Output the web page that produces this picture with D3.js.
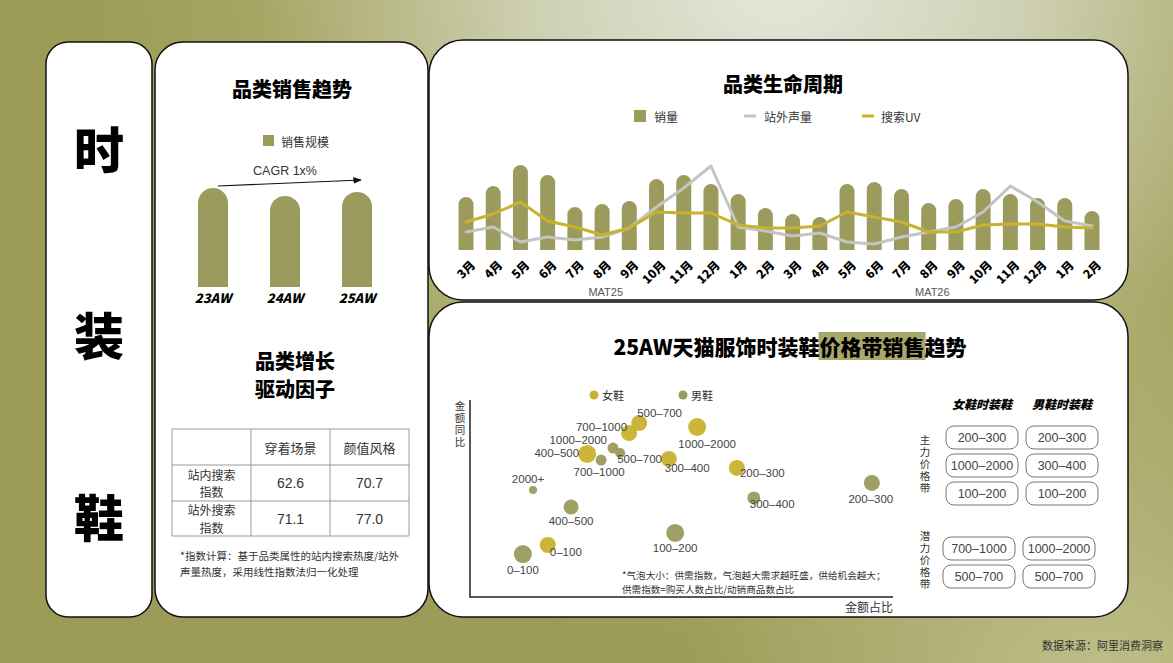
<!DOCTYPE html>
<html>
<head>
<meta charset="utf-8">
<script src="https://cdn.jsdelivr.net/npm/d3@7"></script>
<style>
  html, body { margin: 0; padding: 0; background: #9c9c58; }
  svg { display: block; }
  text { font-family: "Noto Sans CJK SC", "Noto Sans", sans-serif; }
  .num { font-family: "Liberation Sans", "Noto Sans CJK SC", sans-serif; }
  .heavy { font-weight: 900; }
  .vert { writing-mode: vertical-rl; text-orientation: upright; }
</style>
</head>
<body>
<div id="chart"></div>
<script>
// ---- data ----
var sizeCats = ['23AW', '24AW', '25AW'];
var sizeVals = [100, 92, 96];

var months = ['3月','4月','5月','6月','7月','8月','9月','10月','11月','12月','1月','2月'];
var periods = ['MAT25', 'MAT26'];
var salesVol   = [53,64,85,75,43,46,49,71,75,66,56,42, 36,33,66,68,61,47,51,61,56,52,52,39];
var offsiteBuz = [18,23,8,13,10,13,22,43,62,84,23,19, 14,17,8,6,13,18,23,38,64,48,29,24];
var searchUV   = [28,36,48,29,23,15,22,38,37,37,25,22, 22,24,38,33,28,18,18,25,26,26,23,22];

var driverCols = ['穿着场景', '颜值风格'];
var driverRows = [['站内搜索', '指数'], ['站外搜索', '指数']];
var driverVals = [[62.6, 70.7], [71.1, 77.0]];

var womenBands = ['0-100','200-300','300-400','400-500','500-700','700-1000','1000-2000'];
var womenShare = [18.4, 63.1, 47.0, 27.7, 40.0, 37.6, 53.7];
var womenYoY   = [26.4, 65.5, 70.1, 72.6, 88.3, 83.2, 86.3];
var womenIdx   = [79, 79, 79, 100, 79, 79, 100];

var menBands = ['0-100','100-200','200-300','300-400','400-500','500-700','700-1000','1000-2000','2000+'];
var menShare = [12.5, 48.5, 95.0, 67.1, 23.9, 35.5, 31.0, 33.8, 14.9];
var menYoY   = [21.8, 32.5, 57.9, 50.3, 45.7, 73.1, 69.5, 75.6, 54.3];
var menIdx   = [100, 100, 79, 52, 69, 31, 37, 37, 20];

var mainBands = [['200-300','200-300'], ['1000-2000','300-400'], ['100-200','100-200']];
var potBands  = [['700-1000','1000-2000'], ['500-700','500-700']];

// label placement [dx, dy, anchor] next to each bubble (layout only)
var womenLabelPos = [[2,7,'start'],[3,5,'start'],[-4,9,'start'],[-8,-1,'end'],[-2,-10,'start'],[-2,-6,'end'],[10,17,'middle']];
var menLabelPos = [[0,16,'middle'],[0,15,'middle'],[-1,16,'middle'],[-4,6,'start'],[0,14,'middle'],[-3,6,'start'],[-2,12,'middle'],[-6,-8,'end'],[-5,-11,'middle']];

var OLIVE = '#9b9b5e', GOLD = '#c9b22e', GRAY = '#c4c4c4';

var W = 1173, H = 663;
var svg = d3.select('#chart').append('svg').attr('width', W).attr('height', H);

// background
var defs = svg.append('defs');
var rg = defs.append('radialGradient').attr('id', 'bg')
  .attr('gradientUnits', 'userSpaceOnUse')
  .attr('cx', 780).attr('cy', -40).attr('r', 700);
rg.append('stop').attr('offset', 0).attr('stop-color', '#e6e8de');
rg.append('stop').attr('offset', 0.35).attr('stop-color', '#cfd1b4');
rg.append('stop').attr('offset', 0.75).attr('stop-color', '#a6a664');
rg.append('stop').attr('offset', 1).attr('stop-color', '#9c9c58');
svg.append('rect').attr('width', W).attr('height', H).attr('fill', 'url(#bg)');
var rg2 = defs.append('radialGradient').attr('id', 'bg2')
  .attr('gradientUnits', 'userSpaceOnUse')
  .attr('cx', 1100).attr('cy', 700).attr('r', 420);
rg2.append('stop').attr('offset', 0).attr('stop-color', '#c8c898').attr('stop-opacity', 0.8);
rg2.append('stop').attr('offset', 1).attr('stop-color', '#c8c898').attr('stop-opacity', 0);
svg.append('rect').attr('width', W).attr('height', H).attr('fill', 'url(#bg2)');

// panels
var panels = [
  {x: 46, y: 42, w: 106, h: 575, r: 22},
  {x: 155, y: 42, w: 273, h: 575, r: 28},
  {x: 429, y: 40, w: 699, h: 260, r: 34},
  {x: 429, y: 302, w: 699, h: 315, r: 34}
];
svg.selectAll('rect.panel').data(panels).enter().append('rect')
  .attr('class', 'panel')
  .attr('x', function(d){ return d.x; }).attr('y', function(d){ return d.y; })
  .attr('width', function(d){ return d.w; }).attr('height', function(d){ return d.h; })
  .attr('rx', function(d){ return d.r; })
  .attr('fill', '#fff').attr('stroke', '#111').attr('stroke-width', 1.5);

// left vertical title
svg.selectAll('text.side').data(['时', '装', '鞋']).enter().append('text')
  .attr('class', 'side heavy')
  .attr('x', 99).attr('y', function(d, i){ return [147, 333, 515][i]; })
  .attr('text-anchor', 'middle').attr('dominant-baseline', 'central')
  .attr('font-size', 50).attr('fill', '#000')
  .text(function(d){ return d; });

function title(x, y, t, size) {
  return svg.append('text').attr('class', 'heavy')
    .attr('x', x).attr('y', y).attr('text-anchor', 'middle').attr('dominant-baseline', 'central')
    .attr('font-size', size || 20).attr('fill', '#000').text(t);
}

// rounded-top bar path
function barPath(x, y, w, h) {
  var r = Math.min(w / 2, h);
  return 'M' + x + ',' + (y + h) + 'V' + (y + r) +
    'A' + r + ',' + r + ' 0 0 1 ' + (x + w) + ',' + (y + r) +
    'V' + (y + h) + 'Z';
}

// vertical text (top-to-bottom), centred on (x, yc)
function vText(str, x, yc, size, spacing) {
  return svg.append('text').attr('class', 'vert').attr('x', x).attr('y', yc)
    .attr('text-anchor', 'middle').attr('font-size', size)
    .attr('letter-spacing', spacing).attr('fill', '#333').text(str);
}

// ---- panel 2: 品类销售趋势 ----
title(292, 88, '品类销售趋势');
svg.append('rect').attr('x', 263).attr('y', 135).attr('width', 11).attr('height', 11).attr('fill', OLIVE);
svg.append('text').attr('x', 281).attr('y', 141).attr('dominant-baseline', 'central')
  .attr('font-size', 12).attr('fill', '#333').text('销售规模');

var xs = d3.scaleBand().domain(sizeCats).range([177, 393]).paddingInner(0.583).paddingOuter(0.2915);
var ys = d3.scaleLinear().domain([0, 100]).range([287, 188]);

svg.append('g').selectAll('path').data(sizeVals).enter().append('path')
  .attr('fill', OLIVE)
  .attr('d', function(d, i){ return barPath(xs(sizeCats[i]), ys(d), xs.bandwidth(), ys(0) - ys(d)); });

var axS = svg.append('g').attr('transform', 'translate(0,' + ys(0) + ')')
  .call(d3.axisBottom(xs).tickSize(0).tickPadding(7));
axS.select('.domain').remove();
axS.selectAll('text').attr('class', 'heavy').attr('font-size', 13).attr('fill', '#000')
  .attr('font-style', 'italic').attr('font-family', '"DejaVu Sans", sans-serif').attr('font-weight', 'bold');

defs.append('marker').attr('id', 'arr').attr('viewBox', '0 0 10 10').attr('refX', 9).attr('refY', 5)
  .attr('markerWidth', 7).attr('markerHeight', 7).attr('orient', 'auto')
  .append('path').attr('d', 'M0,1L10,5L0,9Z').attr('fill', '#111');
svg.append('line')
  .attr('x1', xs('23AW') + xs.bandwidth() / 2 + 5).attr('y1', ys(sizeVals[0]) - 2)
  .attr('x2', xs('25AW') + xs.bandwidth() / 2 + 4).attr('y2', ys(sizeVals[0]) - 8)
  .attr('stroke', '#111').attr('stroke-width', 1.2).attr('marker-end', 'url(#arr)');
svg.append('text').attr('class', 'num').attr('x', 285).attr('y', 171)
  .attr('text-anchor', 'middle').attr('dominant-baseline', 'central')
  .attr('font-size', 12.5).attr('fill', '#333').text('CAGR 1x%');

// ---- 品类增长驱动因子 ----
title(295, 360, '品类增长');
title(295, 388, '驱动因子');
var colX = [172, 251, 330, 409], rowY = [429, 465, 501, 536];
var tbl = svg.append('g');
rowY.forEach(function(y){
  tbl.append('line').attr('x1', colX[0]).attr('x2', colX[3]).attr('y1', y).attr('y2', y)
    .attr('stroke', '#999').attr('stroke-width', 1);
});
colX.forEach(function(x){
  tbl.append('line').attr('x1', x).attr('x2', x).attr('y1', rowY[0]).attr('y2', rowY[3])
    .attr('stroke', '#999').attr('stroke-width', 1);
});
driverCols.forEach(function(c, j){
  tbl.append('text').attr('x', (colX[j + 1] + colX[j + 2]) / 2).attr('y', (rowY[0] + rowY[1]) / 2)
    .attr('text-anchor', 'middle').attr('dominant-baseline', 'central')
    .attr('font-size', 13).attr('fill', '#333').text(c);
});
driverRows.forEach(function(r, i){
  var cy = (rowY[i + 1] + rowY[i + 2]) / 2;
  r.forEach(function(l, k){
    tbl.append('text').attr('x', (colX[0] + colX[1]) / 2).attr('y', cy + (k - 0.5) * 17.6)
      .attr('text-anchor', 'middle').attr('dominant-baseline', 'central')
      .attr('font-size', 12).attr('fill', '#333').text(l);
  });
  driverVals[i].forEach(function(v, j){
    tbl.append('text').attr('class', 'num').attr('x', (colX[j + 1] + colX[j + 2]) / 2).attr('y', cy)
      .attr('text-anchor', 'middle').attr('dominant-baseline', 'central')
      .attr('font-size', 14).attr('fill', '#333').text(v.toFixed(1));
  });
});
['*指数计算：基于品类属性的站内搜索热度/站外', '声量热度，采用线性指数法归一化处理'].forEach(function(t, i){
  svg.append('text').attr('x', 180).attr('y', 555 + i * 16).attr('dominant-baseline', 'central')
    .attr('font-size', 10.5).attr('fill', '#333').text(t);
});

// ---- panel 3: 品类生命周期 ----
title(783, 83, '品类生命周期');
var lg = svg.append('g').attr('font-size', 12).attr('fill', '#333');
lg.append('rect').attr('x', 634).attr('y', 110).attr('width', 12).attr('height', 12).attr('fill', OLIVE);
lg.append('text').attr('x', 654).attr('y', 116).attr('dominant-baseline', 'central').text('销量');
lg.append('line').attr('x1', 744).attr('x2', 756).attr('y1', 116).attr('y2', 116).attr('stroke', GRAY).attr('stroke-width', 3);
lg.append('text').attr('x', 764).attr('y', 116).attr('dominant-baseline', 'central').text('站外声量');
lg.append('line').attr('x1', 862).attr('x2', 874).attr('y1', 116).attr('y2', 116).attr('stroke', GOLD).attr('stroke-width', 3);
lg.append('text').attr('x', 881).attr('y', 116).attr('dominant-baseline', 'central').text('搜索UV');

var keys = [];
periods.forEach(function(p){ months.forEach(function(m){ keys.push(p + '|' + m); }); });
var xl = d3.scaleBand().domain(keys).range([452.4, 1105.6]).paddingInner(0.45).paddingOuter(0.225);
var yl = d3.scaleLinear().domain([0, 100]).range([250, 150]);

svg.append('g').selectAll('path').data(salesVol).enter().append('path')
  .attr('fill', OLIVE)
  .attr('d', function(d, i){ return barPath(xl(keys[i]), yl(d), xl.bandwidth(), yl(0) - yl(d)); });

var line = d3.line()
  .x(function(d, i){ return xl(keys[i]) + xl.bandwidth() / 2; })
  .y(function(d){ return yl(d); });
[[offsiteBuz, GRAY], [searchUV, GOLD]].forEach(function(s){
  svg.append('path').datum(s[0]).attr('d', line).attr('fill', 'none')
    .attr('stroke', s[1]).attr('stroke-width', 3).attr('stroke-linejoin', 'round').attr('stroke-linecap', 'round');
});

var axL = svg.append('g').attr('transform', 'translate(0,' + yl(0) + ')')
  .call(d3.axisBottom(xl).tickSize(0).tickPadding(0).tickFormat(function(k){ return k.split('|')[1]; }));
axL.select('.domain').remove();
axL.selectAll('.tick text')
  .attr('class', 'heavy').attr('font-size', 12).attr('fill', '#000')
  .attr('text-anchor', 'end').attr('dominant-baseline', 'central')
  .attr('dy', null).attr('y', 0)
  .attr('transform', 'translate(6,12) rotate(-45)');

periods.forEach(function(p){
  var ks = keys.filter(function(k){ return k.indexOf(p) === 0; });
  var cx = (xl(ks[0]) + xl(ks[ks.length - 1]) + xl.bandwidth()) / 2;
  svg.append('text').attr('class', 'num').attr('x', cx - 10).attr('y', 292)
    .attr('text-anchor', 'middle').attr('dominant-baseline', 'central')
    .attr('font-size', 11).attr('fill', '#555').text(p);
});

// ---- panel 4: bubble chart ----
var tt = svg.append('text').attr('class', 'heavy').attr('x', 790).attr('y', 346)
  .attr('text-anchor', 'middle').attr('dominant-baseline', 'central')
  .attr('font-size', 21).attr('fill', '#000').text('25AW天猫服饰时装鞋价格带销售趋势');
var tb = tt.node().getBBox();
var hx = tb.x + tt.node().getSubStringLength(0, 11);
var hw = tt.node().getSubStringLength(11, 5);
svg.insert('rect', function(){ return tt.node(); })
  .attr('x', hx - 1).attr('y', tb.y + 1).attr('width', hw + 2).attr('height', tb.height - 2)
  .attr('fill', '#a8a86c');

var xb = d3.scaleLinear().domain([0, 100]).range([470, 893]);
var yb = d3.scaleLinear().domain([0, 100]).range([597, 400]);
var rb = d3.scaleSqrt().domain([0, 100]).range([0, 9]);

svg.append('path')
  .attr('d', 'M' + xb(0) + ',' + yb(100) + 'V' + yb(0) + 'H' + xb(100))
  .attr('fill', 'none').attr('stroke', '#222').attr('stroke-width', 1.5);
vText('金额同比', 460, 425, 10.5, 1.5);
svg.append('text').attr('x', xb(100)).attr('y', 606).attr('text-anchor', 'end')
  .attr('dominant-baseline', 'central').attr('font-size', 12).attr('fill', '#333').text('金额占比');

var bl = svg.append('g').attr('font-size', 11).attr('fill', '#333');
bl.append('circle').attr('cx', 594).attr('cy', 395).attr('r', 4.5).attr('fill', GOLD);
bl.append('text').attr('x', 602).attr('y', 395).attr('dominant-baseline', 'central').text('女鞋');
bl.append('circle').attr('cx', 683).attr('cy', 395).attr('r', 4.5).attr('fill', OLIVE);
bl.append('text').attr('x', 691).attr('y', 395).attr('dominant-baseline', 'central').text('男鞋');

function series(bands, share, yoy, idx) {
  return bands.map(function(b, i){ return {band: b, x: share[i], y: yoy[i], s: idx[i]}; });
}
var menPts = series(menBands, menShare, menYoY, menIdx);
var womenPts = series(womenBands, womenShare, womenYoY, womenIdx);

function drawBubbles(pts, color) {
  svg.append('g').selectAll('circle').data(pts).enter().append('circle')
    .attr('cx', function(d){ return xb(d.x); }).attr('cy', function(d){ return yb(d.y); })
    .attr('r', function(d){ return rb(d.s); })
    .attr('fill', color).attr('fill-opacity', 0.95);
}
function drawLabels(pts, pos) {
  svg.append('g').selectAll('text').data(pts).enter().append('text')
    .attr('class', 'num')
    .attr('x', function(d, i){ return xb(d.x) + pos[i][0]; })
    .attr('y', function(d, i){ return yb(d.y) + pos[i][1]; })
    .attr('text-anchor', function(d, i){ return pos[i][2]; })
    .attr('dominant-baseline', 'central')
    .attr('font-size', 11.5).attr('fill', '#444')
    .text(function(d){ return d.band.replace('-', '\u2013'); });
}
drawBubbles(menPts, OLIVE);
drawBubbles(womenPts, GOLD);
drawLabels(menPts, menLabelPos);
drawLabels(womenPts, womenLabelPos);

['*气泡大小：供需指数，气泡越大需求越旺盛，供给机会越大；', '供需指数=购买人数占比/动销商品数占比'].forEach(function(t, i){
  svg.append('text').attr('x', 622).attr('y', 575 + i * 14).attr('dominant-baseline', 'central')
    .attr('font-size', 9.6).attr('fill', '#333').text(t);
});

// price band boxes
var colCx = [982, 1062];
['女鞋时装鞋', '男鞋时装鞋'].forEach(function(t, j){
  svg.append('text').attr('class', 'heavy').attr('x', colCx[j]).attr('y', 403)
    .attr('text-anchor', 'middle').attr('dominant-baseline', 'central')
    .attr('font-size', 12).attr('font-style', 'italic').attr('fill', '#000').text(t);
});
function boxes(rows, y0, shift) {
  rows.forEach(function(r, i){
    r.forEach(function(t, j){
      var cx = colCx[j] + shift, cy = y0 + i * 28;
      svg.append('rect').attr('x', cx - 36).attr('y', cy - 11.5).attr('width', 72).attr('height', 23)
        .attr('rx', 8).attr('fill', '#fff').attr('stroke', '#777').attr('stroke-width', 1);
      svg.append('text').attr('class', 'num').attr('x', cx).attr('y', cy)
        .attr('text-anchor', 'middle').attr('dominant-baseline', 'central')
        .attr('font-size', 12.5).attr('fill', '#444').text(t.replace('-', '\u2013'));
    });
  });
}
boxes(mainBands, 437.5, 0);
boxes(potBands, 548.5, -3);
vText('主力价格带', 925, 465, 10.5, 1.5);
vText('潜力价格带', 925, 561, 10.5, 1.5);

// source
svg.append('text').attr('x', 1163).attr('y', 645).attr('text-anchor', 'end')
  .attr('dominant-baseline', 'central').attr('font-size', 11).attr('fill', '#333')
  .text('数据来源：阿里消费洞察');
</script>
</body>
</html>
